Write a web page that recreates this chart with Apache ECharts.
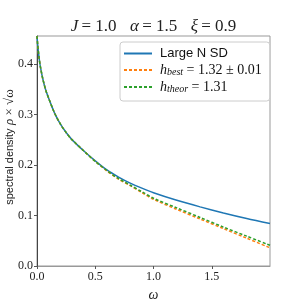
<!DOCTYPE html>
<html><head><meta charset="utf-8">
<script src="https://cdn.jsdelivr.net/npm/echarts@6/dist/echarts.min.js"></script>
<style>html,body{margin:0;padding:0;background:#fff}#c{width:300px;height:300px}</style>
</head><body><div id="c"></div>
<script>
const omega = [0, 0.005, 0.01, 0.02, 0.03, 0.05, 0.075, 0.1, 0.15, 0.2, 0.25, 0.3, 0.4, 0.5, 0.6, 0.7, 0.8, 0.9, 1.0, 1.2, 1.4, 1.6, 1.8, 2.0];
const largeN = [0.455, 0.44, 0.428, 0.408, 0.393, 0.37, 0.348, 0.332, 0.303, 0.281, 0.264, 0.25, 0.228, 0.208, 0.19, 0.176, 0.164, 0.154, 0.145, 0.13, 0.117, 0.105, 0.094, 0.084];
const hBest = [0.455, 0.44, 0.428, 0.408, 0.393, 0.37, 0.348, 0.332, 0.303, 0.281, 0.264, 0.25, 0.228, 0.207, 0.188, 0.172, 0.159, 0.145, 0.132, 0.112, 0.093, 0.074, 0.055, 0.036];
const hTheor = [0.455, 0.44, 0.428, 0.408, 0.393, 0.37, 0.348, 0.332, 0.303, 0.281, 0.264, 0.25, 0.228, 0.207, 0.189, 0.173, 0.16, 0.147, 0.134, 0.115, 0.096, 0.077, 0.059, 0.041];
const xTicks = [0, 0.5, 1.0, 1.5];
const yTicks = [0, 0.1, 0.2, 0.3, 0.4];
const seriesNames = ['Large N SD', 'h_best', 'h_theor'];

const pair = (xs, ys) => xs.map((x, i) => [x, ys[i]]);
const serif = 'Liberation Serif';
const chart = echarts.init(document.getElementById('c'));
chart.setOption({
  animation: false,
  grid: {left: 37, top: 36, right: 30, bottom: 34, outerBoundsMode: 'none', containLabel: false, show: true, borderColor: '#999', borderWidth: 1},
  graphic: [{
    type: 'text', x: 153.5, y: 18,
    style: {
      text: '{i|J} {n|= 1.0}    {i|α} {n|= 1.5}    {i|ξ} {n|= 0.9}',
      align: 'center',
      fill: '#222',
      rich: {
        i: {fontFamily: serif, fontStyle: 'italic', fontSize: 17, fill: '#222'},
        n: {fontFamily: serif, fontSize: 17, fill: '#222'}
      }
    }
  }, {
    type: 'text', x: 10, y: 147, rotation: Math.PI / 2,
    style: {
      text: '{t|spectral density} {i|ρ} {n|× √ω}',
      align: 'center', verticalAlign: 'middle',
      rich: {
        t: {fontFamily: 'Liberation Sans', fontSize: 11, fill: '#222'},
        i: {fontFamily: serif, fontStyle: 'italic', fontSize: 13, fill: '#222'},
        n: {fontFamily: serif, fontSize: 13, fill: '#222'}
      }
    }
  }],
  legend: {
    orient: 'vertical', left: 120, top: 42,
    itemWidth: 28, itemHeight: 10, itemGap: 1,
    padding: [5, 8, 7, 3],
    borderColor: '#ccc', borderWidth: 1, borderRadius: 3,
    backgroundColor: '#fff',
    itemStyle: {opacity: 0},
    data: seriesNames,
    formatter: function (name) {
      if (name === 'h_best') return '{i|h}{s|best}{n| = 1.32 ± 0.01}';
      if (name === 'h_theor') return '{i|h}{s|theor}{n| = 1.31}';
      return '{t|' + name + '}';
    },
    textStyle: {
      padding: [0, 0, 0, 3],
      rich: {
        t: {fontFamily: 'Liberation Sans', fontSize: 13, color: '#111', lineHeight: 14},
        i: {fontFamily: serif, fontStyle: 'italic', fontSize: 14, color: '#111', lineHeight: 14},
        s: {fontFamily: serif, fontStyle: 'italic', fontSize: 10, color: '#111', lineHeight: 14, verticalAlign: 'bottom', padding: [6, 0, 0, 0]},
        n: {fontFamily: serif, fontSize: 14, color: '#111', lineHeight: 14}
      }
    }
  },
  xAxis: {
    type: 'value', min: 0, max: 2, interval: 0.5,
    name: 'ω', nameLocation: 'middle', nameGap: 19,
    nameTextStyle: {fontFamily: serif, fontStyle: 'italic', fontSize: 14, color: '#222'},
    axisLine: {show: true, onZero: false, lineStyle: {color: '#999'}},
    axisTick: {show: true, length: 3, customValues: xTicks, lineStyle: {color: '#555'}},
    axisLabel: {customValues: xTicks, margin: 5, fontFamily: serif, fontSize: 12, color: '#222', formatter: v => v.toFixed(1)},
    splitLine: {show: false}
  },
  yAxis: {
    type: 'value', min: 0, max: 0.455, interval: 0.1,
    axisLine: {show: true, onZero: false, lineStyle: {color: '#444'}},
    axisTick: {show: true, length: 3, customValues: yTicks, lineStyle: {color: '#555'}},
    axisLabel: {customValues: yTicks, margin: 4, fontFamily: serif, fontSize: 12, color: '#222', formatter: v => v.toFixed(1)},
    splitLine: {show: false}
  },
  series: [
    {name: seriesNames[0], type: 'line', data: pair(omega, largeN), smooth: 0.3, symbol: 'none', lineStyle: {color: '#1f77b4', width: 1.5}, itemStyle: {color: '#1f77b4'}},
    {name: seriesNames[1], type: 'line', data: pair(omega, hBest), smooth: 0.3, symbol: 'none', lineStyle: {color: '#ff7f0e', width: 1.5, type: [3, 2]}, itemStyle: {color: '#ff7f0e'}},
    {name: seriesNames[2], type: 'line', data: pair(omega, hTheor), smooth: 0.3, symbol: 'none', lineStyle: {color: '#2ca02c', width: 1.5, type: [3, 2]}, itemStyle: {color: '#2ca02c'}}
  ]
});
</script></body></html>
